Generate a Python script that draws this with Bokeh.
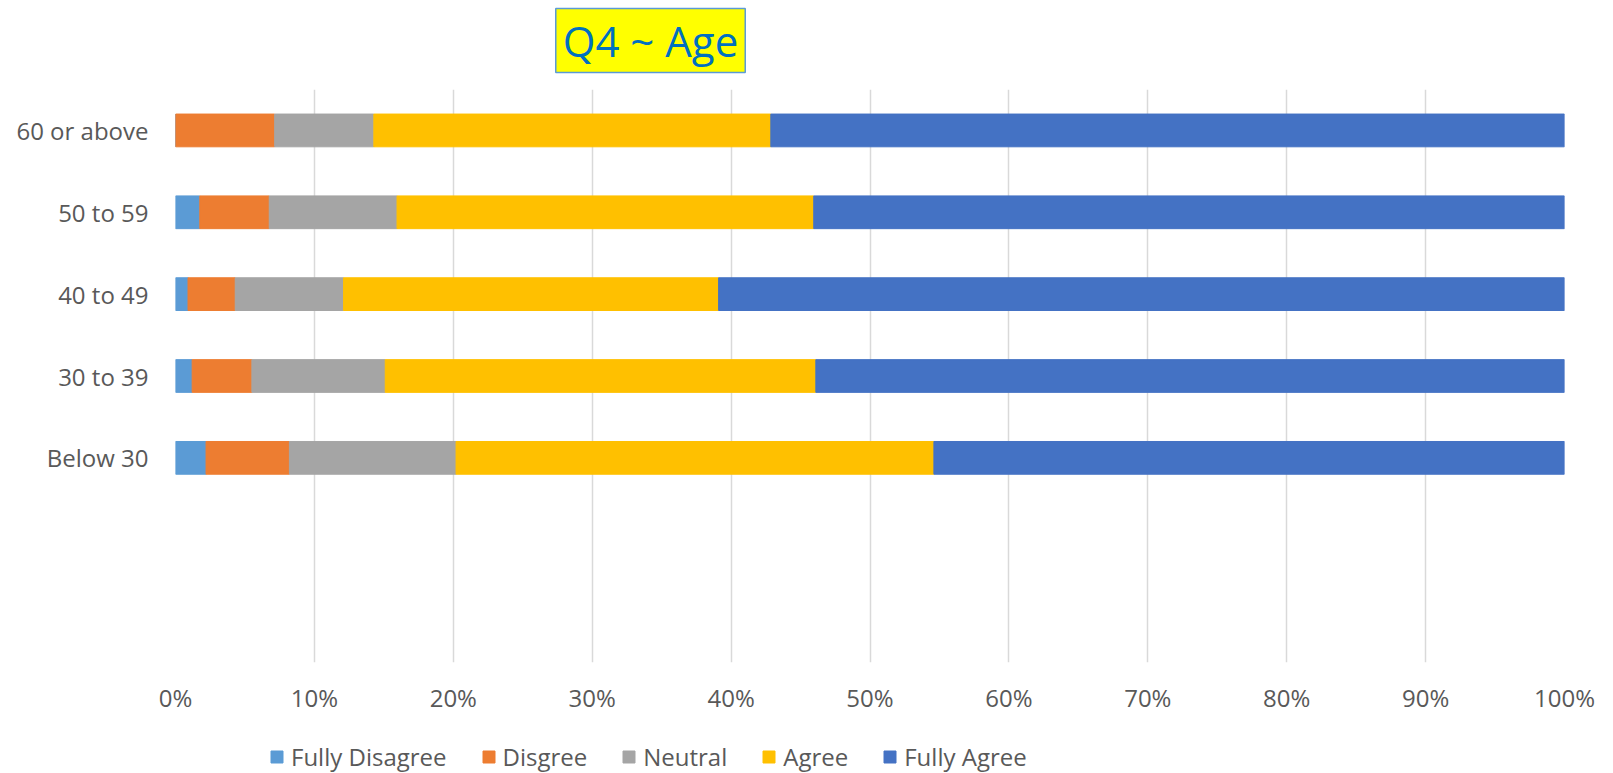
from bokeh.plotting import figure
from bokeh.models import ColumnDataSource, Range1d, FixedTicker, Label
from bokeh.layouts import column
from bokeh.embed import file_html
from bokeh.resources import INLINE

# Survey answers to Q4, split by age group (percent of respondents)
categories = ["Below 30", "30 to 39", "40 to 49", "50 to 59", "60 or above"]
fully_disagree = [2.2, 1.2, 0.9, 1.75, 0.0]
disagree = [6.0, 4.3, 3.4, 5.0, 7.14]
neutral = [12.0, 9.6, 7.8, 9.2, 7.14]
agree = [34.4, 31.0, 27.0, 30.0, 28.58]
fully_agree = [45.4, 53.9, 60.9, 54.05, 57.14]

series_names = ["Fully Disagree", "Disgree", "Neutral", "Agree", "Fully Agree"]
series_colors = ["#5B9BD5", "#ED7D31", "#A5A5A5", "#FFC000", "#4472C4"]

x_ticks = [0, 10, 20, 30, 40, 50, 60, 70, 80, 90, 100]
x_tick_labels = ["0%", "10%", "20%", "30%", "40%", "50%", "60%", "70%", "80%", "90%", "100%"]

title_text = "Q4 ~ Age"

FONT = "Open Sans"
TEXT_COLOR = "#595959"
GRID_COLOR = "#D9D9D9"

positions = list(range(len(categories)))
source = ColumnDataSource(dict(
    y=positions,
    fd=fully_disagree,
    d=disagree,
    n=neutral,
    a=agree,
    fa=fully_agree,
))
stackers = ["fd", "d", "n", "a", "fa"]


def blank_strip(height, x_range=None, y_range=None):
    """A figure with no axes or grid, used as a strip above/below the chart."""
    f = figure(
        width=1613, height=height,
        x_range=x_range or Range1d(0, 1), y_range=y_range or Range1d(0, 1),
        x_axis_type=None, y_axis_type=None,
        output_backend="svg", toolbar_location=None,
        min_border=0,
    )
    f.outline_line_color = None
    f.xgrid.visible = False
    f.ygrid.visible = False
    return f


# title strip with the boxed heading
top = blank_strip(89)
top.add_layout(Label(
    x=475, y=49, x_units="screen", y_units="screen",
    text=title_text, text_font=FONT, text_font_size="42px",
    text_color="#0070C0", text_align="center", text_baseline="middle",
    background_fill_color="#FFFF00", border_line_color="#5B9BD5",
    border_line_width=1.5, padding=dict(left=7, right=7, top=3, bottom=4),
))

# main chart
p = figure(
    width=1613, height=629,
    x_range=Range1d(0, 100),
    # two empty slots below the lowest group keep the bars in the upper part
    y_range=Range1d(-2.5, len(categories) - 0.5),
    output_backend="svg", toolbar_location=None,
    min_border_left=175, min_border_right=49,
    min_border_top=0, min_border_bottom=56,
)
p.outline_line_color = None
p.background_fill_color = "white"
p.border_fill_color = "white"

p.hbar_stack(stackers, y="y", height=0.4, color=series_colors, source=source)

# x axis: percentage ticks, no axis line
p.xaxis.ticker = FixedTicker(ticks=x_ticks)
p.xaxis.major_label_overrides = {t: lab for t, lab in zip(x_ticks, x_tick_labels)}
p.xaxis.axis_line_color = None
p.xaxis.major_tick_line_color = None
p.xaxis.minor_tick_line_color = None
p.xaxis.major_tick_out = 0
p.xaxis.major_label_standoff = 18
p.xaxis.major_label_text_font = FONT
p.xaxis.major_label_text_font_size = "24px"
p.xaxis.major_label_text_color = TEXT_COLOR

# y axis: age groups
p.yaxis.ticker = FixedTicker(ticks=positions)
p.yaxis.major_label_overrides = {i: c for i, c in zip(positions, categories)}
p.yaxis.axis_line_color = None
p.yaxis.major_tick_line_color = None
p.yaxis.minor_tick_line_color = None
p.yaxis.major_tick_out = 0
p.yaxis.major_label_standoff = 27
p.yaxis.major_label_text_font = FONT
p.yaxis.major_label_text_font_size = "24px"
p.yaxis.major_label_text_color = TEXT_COLOR

p.xgrid.grid_line_color = GRID_COLOR
p.xgrid.grid_line_width = 1.5
p.ygrid.grid_line_color = None

# legend strip below the chart; the stack is repeated here only to supply
# swatches, its y range keeps the bars themselves out of view
lg = blank_strip(55, x_range=Range1d(0, 100), y_range=Range1d(100, 101))
lg.hbar_stack(stackers, y="y", height=0.4, color=series_colors,
              source=source, legend_label=series_names)

leg = lg.legend[0]
leg.orientation = "horizontal"
leg.location = (94, 0)
leg.padding = 0
leg.margin = 0
leg.spacing = 34
leg.glyph_width = 15
leg.glyph_height = 15
leg.label_standoff = 7
leg.label_text_font = FONT
leg.label_text_font_size = "24px"
leg.label_text_color = TEXT_COLOR
leg.border_line_color = None
leg.background_fill_alpha = 0

layout = column(top, p, lg, spacing=0)

open("out.html", "w").write(file_html(layout, INLINE))
